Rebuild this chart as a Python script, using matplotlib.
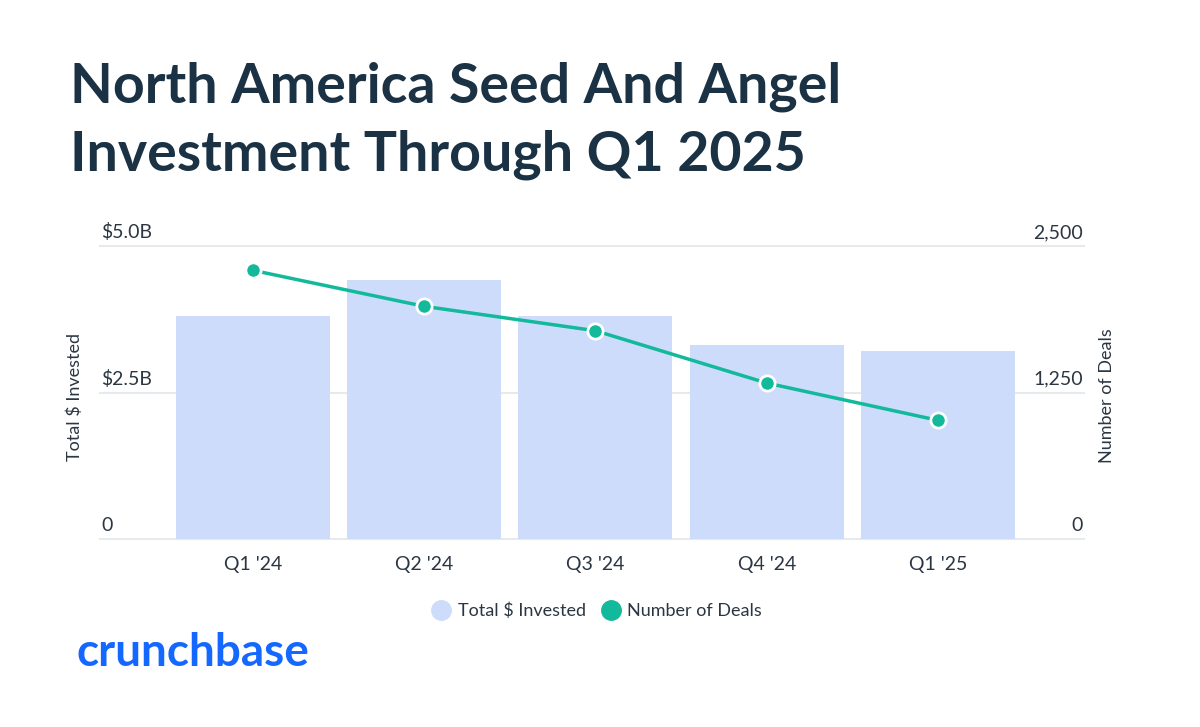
import matplotlib
matplotlib.use("Agg")
import matplotlib.pyplot as plt
from matplotlib.transforms import offset_copy, blended_transform_factory
from matplotlib.lines import Line2D
import numpy as np

# Data
quarters = ["Q1 '24", "Q2 '24", "Q3 '24", "Q4 '24", "Q1 '25"]
invested_b = [3.80, 4.42, 3.80, 3.31, 3.21]    # $B
deals = [2293, 1986, 1778, 1332, 1014]

left_ticks = [0, 2.5, 5.0]
left_labels = ["0", "$2.5B", "$5.0B"]
right_ticks = [0, 1250, 2500]
right_labels = ["0", "1,250", "2,500"]

# Colours
BAR = "#cddcfb"
TEAL = "#12b99b"
NAVY = "#1b3144"
TXT = "#2b3642"
GRID = "#e7e9ec"
BLUE = "#1468ff"

plt.rcParams['font.family'] = ['Lato', 'DejaVu Sans']

fig = plt.figure(figsize=(12, 7.27), dpi=100)
fig.patch.set_facecolor("white")

ax = fig.add_axes([0.0833, 0.2582, 0.82, 0.4034])
ax2 = ax.twinx()

x = np.arange(len(quarters))
ax.bar(x, invested_b, width=0.9, color=BAR, zorder=2)
ax.set_xlim(-0.892, 4.852)
ax.set_ylim(0, 5.0)
ax2.set_ylim(0, 2500)

for a in (ax, ax2):
    for s in a.spines.values():
        s.set_visible(False)
    a.set_yticks([])
    a.tick_params(length=0)

# gridlines
for t in left_ticks:
    ax.axhline(t, color=GRID, lw=1.5, zorder=1, clip_on=False)

ax.set_xticks(x)
ax.set_xticklabels(quarters, fontsize=14, color=TXT)
ax.tick_params(axis='x', pad=12)

ax2.plot(x, deals, color=TEAL, lw=2.5, marker='o', markersize=11,
         markerfacecolor=TEAL, markeredgecolor='white', markeredgewidth=2, zorder=5)

# y tick labels sitting above the gridlines
tl = blended_transform_factory(ax.transAxes, ax.transData)
tl = offset_copy(tl, fig=fig, x=1, y=5, units='dots')
for t, lab in zip(left_ticks, left_labels):
    ax.text(0, t, lab, transform=tl, ha='left', va='bottom', fontsize=14, color=TXT)
tr = blended_transform_factory(ax2.transAxes, ax2.transData)
tr = offset_copy(tr, fig=fig, x=-1, y=5, units='dots')
for t, lab in zip(right_ticks, right_labels):
    ax2.text(1, t, lab, transform=tr, ha='right', va='bottom', fontsize=14, color=TXT)

# axis titles
fig.text(75 / 1200, 1 - 397 / 727, "Total $ Invested", rotation=90, ha='center', va='center',
         fontsize=13, color=TXT)
fig.text(1107 / 1200, 1 - 396 / 727, "Number of Deals", rotation=90, ha='center', va='center',
         fontsize=13, color=TXT)

# title
fig.text(70 / 1200, 1 - 103 / 727, "North America Seed And Angel", fontsize=40,
         fontweight='bold', color=NAVY, ha='left', va='baseline')
fig.text(70 / 1200, 1 - 171 / 727, "Investment Through Q1 2025", fontsize=40,
         fontweight='bold', color=NAVY, ha='left', va='baseline')

# legend
handles = [
    Line2D([], [], linestyle='none', marker='o', markersize=14, markerfacecolor=BAR,
           markeredgecolor=BAR, label="Total $ Invested"),
    Line2D([], [], linestyle='none', marker='o', markersize=14, markerfacecolor=TEAL,
           markeredgecolor=TEAL, label="Number of Deals"),
]
fig.legend(handles=handles, loc='center', bbox_to_anchor=(597 / 1200, 1 - 611 / 727),
           ncol=2, frameon=False, fontsize=13, handletextpad=0.4, columnspacing=0.9,
           labelcolor=TXT, handlelength=1.0)

# logo text
fig.text(76 / 1200, 1 - 666 / 727, "crunchbase", fontsize=33, fontweight='bold',
         color=BLUE, ha='left', va='baseline')

fig.savefig("out.png", dpi=100, facecolor="white")
